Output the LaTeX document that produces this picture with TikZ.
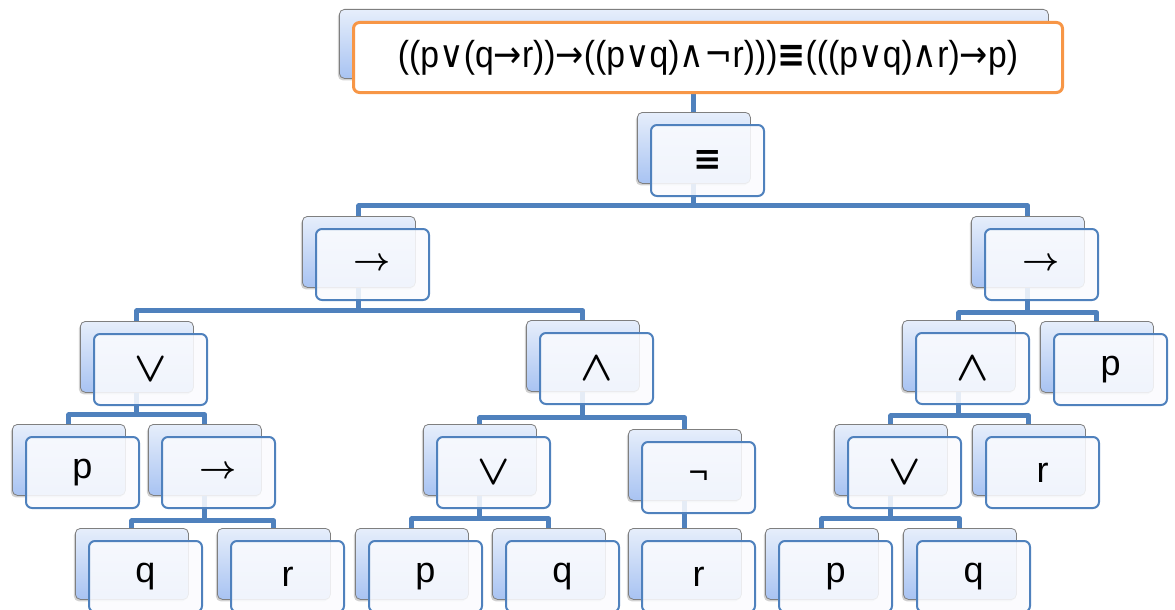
\documentclass[tikz,border=0pt]{standalone}
\usepackage{fontspec}
\setmainfont{Liberation Sans}
\newfontfamily\symfont{DejaVu Sans}
\usetikzlibrary{shadows}

\definecolor{linkblue}{HTML}{4F81BD}
\definecolor{cardtop}{HTML}{E6EEFB}
\definecolor{cardbot}{HTML}{A8C3F2}
\definecolor{cardedge}{HTML}{7F7F7F}
\definecolor{frontfill}{HTML}{FAFBFE}
\definecolor{orangeedge}{HTML}{F79646}

% symbols inside the formula, from DejaVu Sans
\newcommand\sy[1]{{\symfont #1}}
% operator signs for the tree cards
\newcommand\opor{\scalebox{1.7}{\boldmath$\vee$}}
\newcommand\opand{\scalebox{1.7}{\boldmath$\wedge$}}
\newcommand\opimp{\scalebox{1.3}{\boldmath$\rightarrow$}}
\newcommand\opneg{{\fontsize{34}{36}\selectfont ¬}}
\newcommand\opeq{\textbf{{\symfont\fontsize{34}{36}\selectfont ≡}}}

\begin{document}
\begin{tikzpicture}[x=1pt,y=-1pt,
  backcard/.style={rectangle, rounded corners=5pt, draw=cardedge, line width=0.8pt,
    top color=cardtop, bottom color=cardbot, minimum width=113pt, minimum height=71pt,
    inner sep=0pt, anchor=north west,
    drop shadow={shadow xshift=-1.5pt, shadow yshift=-2pt, opacity=0.3, fill=black!60}},
  frontcard/.style={rectangle, rounded corners=6pt, draw=linkblue, line width=2pt,
    fill=frontfill, fill opacity=0.88, text opacity=1, minimum width=113pt,
    minimum height=71pt, inner sep=0pt, anchor=north west,
    font=\fontsize{36}{40}\selectfont},
  conn/.style={draw=linkblue, line width=5pt, line join=round}]

\useasboundingbox (0,0) rectangle (1175,610);
\clip (0,0) rectangle (1175,610);

% ---- back cards -------------------------------------------------
\node[backcard, minimum width=709pt, minimum height=69pt] (top) at (339,9) {};
\node[backcard] (eq)  at (637,112) {};
\node[backcard] (a1)  at (302,216) {};
\node[backcard] (a2)  at (971,216) {};
\node[backcard] (o1)  at (80,321) {};
\node[backcard] (n1)  at (526,320) {};
\node[backcard] (n2)  at (902,320) {};
\node[backcard] (p3)  at (1040,321) {};
\node[backcard] (p1)  at (12,424) {};
\node[backcard] (a3)  at (148,424) {};
\node[backcard] (o2)  at (423,424) {};
\node[backcard] (neg) at (628,429) {};
\node[backcard] (o3)  at (834,424) {};
\node[backcard] (r3)  at (972,424) {};
\node[backcard] (q1)  at (75,528) {};
\node[backcard] (r1)  at (217,528) {};
\node[backcard] (p2)  at (355,528) {};
\node[backcard] (q2)  at (492,528) {};
\node[backcard] (r2)  at (628,528) {};
\node[backcard] (p4)  at (765,528) {};
\node[backcard] (q4)  at (903,528) {};

% ---- connectors -------------------------------------------------
\draw[conn] (top.south) -- (eq.north);
\draw[conn] (eq.south) -- ++(0,22) -| (a1.north);
\draw[conn] (eq.south) -- ++(0,22) -| (a2.north);
\draw[conn] (a1.south) -- ++(0,23) -| (o1.north);
\draw[conn] (a1.south) -- ++(0,23) -| (n1.north);
\draw[conn] (a2.south) -- ++(0,25) -| (n2.north);
\draw[conn] (a2.south) -- ++(0,25) -| (p3.north);
\draw[conn] (o1.south) -- ++(0,22) -| (p1.north);
\draw[conn] (o1.south) -- ++(0,22) -| (a3.north);
\draw[conn] (n1.south) -- ++(0,26) -| (o2.north);
\draw[conn] (n1.south) -- ++(0,26) -| (neg.north);
\draw[conn] (n2.south) -- ++(0,24) -| (o3.north);
\draw[conn] (n2.south) -- ++(0,24) -| (r3.north);
\draw[conn] (a3.south) -- ++(0,25) -| (q1.north);
\draw[conn] (a3.south) -- ++(0,25) -| (r1.north);
\draw[conn] (o2.south) -- ++(0,23) -| (p2.north);
\draw[conn] (o2.south) -- ++(0,23) -| (q2.north);
\draw[conn] (neg.south) -- (r2.north);
\draw[conn] (o3.south) -- ++(0,23) -| (p4.north);
\draw[conn] (o3.south) -- ++(0,23) -| (q4.north);

% ---- front cards ------------------------------------------------
\node[frontcard, draw=orangeedge, line width=3pt, fill=white, fill opacity=1,
  minimum width=709pt, minimum height=70pt] (top-f) at ([xshift=13pt,yshift=-12pt]top.north west)
  {\resizebox*{620pt}{35pt}{((p\sy{∨}(q\sy{→}r))\sy{→}((p\sy{∨}q)\sy{∧}\sy{¬}r)))\textbf{\sy{≡}}(((p\sy{∨}q)\sy{∧}r)\sy{→}p)}};
\node[frontcard] (eq-f)  at ([xshift=13pt,yshift=-12pt]eq.north west)  {\opeq};
\node[frontcard] (a1-f)  at ([xshift=13pt,yshift=-12pt]a1.north west)  {\opimp};
\node[frontcard] (a2-f)  at ([xshift=13pt,yshift=-12pt]a2.north west)  {\opimp};
\node[frontcard] (o1-f)  at ([xshift=13pt,yshift=-12pt]o1.north west)  {\opor};
\node[frontcard] (n1-f)  at ([xshift=13pt,yshift=-12pt]n1.north west)  {\opand};
\node[frontcard] (n2-f)  at ([xshift=13pt,yshift=-12pt]n2.north west)  {\opand};
\node[frontcard] (p3-f)  at ([xshift=13pt,yshift=-12pt]p3.north west)  {p};
\node[frontcard] (p1-f)  at ([xshift=13pt,yshift=-12pt]p1.north west)  {p};
\node[frontcard] (a3-f)  at ([xshift=13pt,yshift=-12pt]a3.north west)  {\opimp};
\node[frontcard] (o2-f)  at ([xshift=13pt,yshift=-12pt]o2.north west)  {\opor};
\node[frontcard] (neg-f) at ([xshift=13pt,yshift=-12pt]neg.north west) {\opneg};
\node[frontcard] (o3-f)  at ([xshift=13pt,yshift=-12pt]o3.north west)  {\opor};
\node[frontcard] (r3-f)  at ([xshift=13pt,yshift=-12pt]r3.north west)  {r};
\node[frontcard] (q1-f)  at ([xshift=13pt,yshift=-12pt]q1.north west)  {q};
\node[frontcard] (r1-f)  at ([xshift=13pt,yshift=-12pt]r1.north west)  {r};
\node[frontcard] (p2-f)  at ([xshift=13pt,yshift=-12pt]p2.north west)  {p};
\node[frontcard] (q2-f)  at ([xshift=13pt,yshift=-12pt]q2.north west)  {q};
\node[frontcard] (r2-f)  at ([xshift=13pt,yshift=-12pt]r2.north west)  {r};
\node[frontcard] (p4-f)  at ([xshift=13pt,yshift=-12pt]p4.north west)  {p};
\node[frontcard] (q4-f)  at ([xshift=13pt,yshift=-12pt]q4.north west)  {q};
\end{tikzpicture}
\end{document}
